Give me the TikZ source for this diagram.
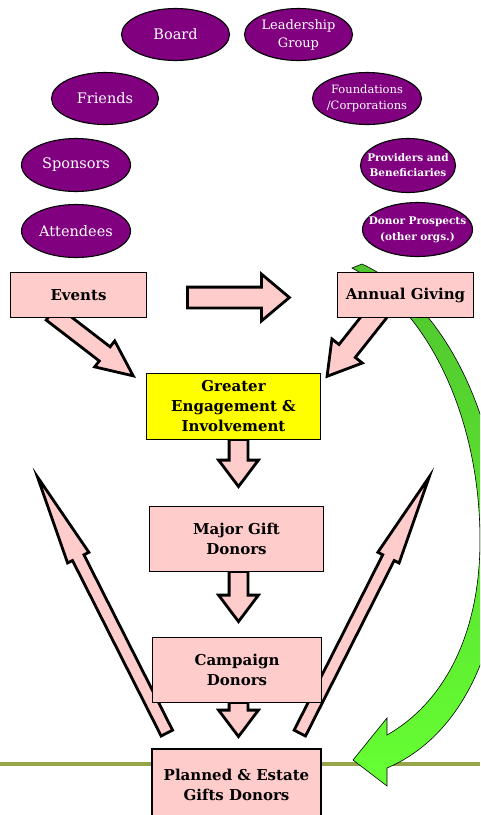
\documentclass[tikz,border=0pt]{standalone}
\usepackage{fontspec}
\setmainfont{DejaVu Serif}
\usetikzlibrary{shapes.geometric,shapes.arrows}
\definecolor{grouppurple}{HTML}{800080}
\definecolor{stagepink}{HTML}{FFCCCC}
\definecolor{focusyellow}{HTML}{FFFF00}
\definecolor{rulegreen}{HTML}{96A548}
\definecolor{loopdark}{HTML}{50C52E}
\definecolor{loopbright}{HTML}{66FF33}
\pgfdeclarelayer{back}
\pgfdeclarelayer{mid}
\pgfsetlayers{back,mid,main}

\begin{document}
\begin{tikzpicture}[x=1pt,y=-1pt]
  \tikzstyle{group}=[ellipse,draw=black,fill=grouppurple,line width=1.1pt,inner sep=0pt]
  \tikzstyle{grouptext}=[text=white,align=center,font=\fontsize{14.5}{17}\selectfont]
  \tikzstyle{stage}=[rectangle,draw=black,fill=stagepink,line width=1.3pt,align=center,
                     font=\bfseries\fontsize{15}{20}\selectfont]
  \tikzstyle{flow}=[single arrow,draw=black,fill=stagepink,line width=2.8pt,inner xsep=0pt,anchor=tail]
  \useasboundingbox (0,0) rectangle (480,815);
  \clip (0,0) rectangle (480,815);

  % donor groups
  \node[group,minimum width=108pt,minimum height=52pt] (G_board) at (175.5,34.5) {};
  \node[grouptext] at (G_board) {Board};
  \node[group,minimum width=108pt,minimum height=52pt] (G_leader) at (298.5,34.5) {};
  \node[grouptext,font=\fontsize{13}{18}\selectfont] at (G_leader) {Leadership\\Group};
  \node[group,minimum width=107pt,minimum height=52pt] (G_friends) at (105,98.5) {};
  \node[grouptext] at (G_friends) {Friends};
  \node[group,minimum width=109pt,minimum height=52pt] (G_found) at (367,98.5) {};
  \node[grouptext,font=\fontsize{11.5}{16}\selectfont] at (G_found) {Foundations\\/Corporations};
  \node[group,minimum width=109pt,minimum height=53pt] (G_sponsors) at (76,165) {};
  \node[grouptext] at (G_sponsors) {Sponsors};
  \node[group,minimum width=95pt,minimum height=54pt] (G_providers) at (408,165.5) {};
  \node[grouptext,font=\bfseries\fontsize{10.5}{15}\selectfont] at (G_providers) {Providers and\\Beneficiaries};
  \node[group,minimum width=109pt,minimum height=53pt] (G_attend) at (76,231) {};
  \node[grouptext] at (G_attend) {Attendees};
  \node[group,minimum width=110pt,minimum height=54pt] (G_donor) at (417.5,229.5) {};
  \node[grouptext,font=\bfseries\fontsize{10.5}{16}\selectfont] at (G_donor) {Donor Prospects\\(other orgs.)};

  % giving stages
  \node[stage,minimum width=136pt,minimum height=45pt] (S_events) at (78.5,295) {Events};
  \node[stage,minimum width=136pt,minimum height=45pt] (S_annual) at (405.5,295) {Annual Giving};
  \node[stage,fill=focusyellow,minimum width=174pt,minimum height=66pt] (S_greater) at (233.5,406.5)
        {Greater\\Engagement \&\\Involvement};
  \node[stage,minimum width=174pt,minimum height=65pt] (S_major) at (236.5,539) {Major Gift\\Donors};
  \node[stage,minimum width=169pt,minimum height=65pt] (S_campaign) at (237,670) {Campaign\\Donors};
  \node[stage,minimum width=169pt,minimum height=72pt] (S_planned) at (236.5,785) {Planned \& Estate\\Gifts Donors};

  \begin{pgfonlayer}{back}
    \begin{scope}
      \clip (0,0) rectangle (480,815);
      \draw[rulegreen,line width=4pt] (0,764) -- (480,764);
    \end{scope}
  \end{pgfonlayer}

  \begin{pgfonlayer}{mid}
    \begin{scope}
      \clip (0,0) rectangle (480,815);
      \draw[draw=black,line width=0.6pt,top color=loopdark,bottom color=loopbright]
        (352,268) .. controls (430,310) and (480,420) .. (480,540)
        .. controls (480,640) and (440,705) .. (387,735)
        -- (387,718) -- (353,760) -- (387,786) -- (387,768)
        .. controls (465,735) and (502,640) .. (502,545)
        .. controls (502,430) and (450,305) .. (362,264) -- cycle;

      \node[flow,minimum height=102pt,inner ysep=9pt,single arrow head extend=13pt,
            single arrow tip angle=80] (A_ev_an) at (186,297.5) {};
      \node[flow,rotate=-37.6,minimum height=103pt,inner ysep=7.5pt,single arrow head extend=7.5pt,
            single arrow tip angle=49] (A_ev_gr) at ([xshift=-28pt,yshift=6pt]S_events.south) {};
      \node[flow,rotate=-128.4,minimum height=83pt,inner ysep=9pt,single arrow head extend=9pt,
            single arrow tip angle=62] (A_an_gr) at ([xshift=-26pt,yshift=8pt]S_annual.south) {};
      \node[flow,rotate=-90,minimum height=47pt,inner ysep=8pt,single arrow head extend=10.5pt,
            single arrow tip angle=74] (A_gr_ma) at ([xshift=5pt,yshift=2pt]S_greater.south) {};
      \node[flow,rotate=-90,minimum height=50pt,inner ysep=8pt,single arrow head extend=10.5pt,
            single arrow tip angle=74] (A_ma_ca) at ([xshift=2pt,yshift=2pt]S_major.south) {};
      \node[flow,rotate=-90,minimum height=34pt,inner ysep=8pt,single arrow head extend=10.5pt,
            single arrow tip angle=74] (A_ca_pl) at ([xshift=1.5pt,yshift=2pt]S_campaign.south) {};
      \node[flow,rotate=116.8,minimum height=287pt,inner ysep=5pt,single arrow head extend=5.5pt,
            single arrow tip angle=15] (A_pl_left) at ([xshift=-69pt,yshift=14pt]S_planned.north) {};
      \node[flow,rotate=63.2,minimum height=287pt,inner ysep=5pt,single arrow head extend=5.5pt,
            single arrow tip angle=15] (A_pl_right) at ([xshift=62.7pt,yshift=14pt]S_planned.north) {};
    \end{scope}
  \end{pgfonlayer}
\end{tikzpicture}
\end{document}
